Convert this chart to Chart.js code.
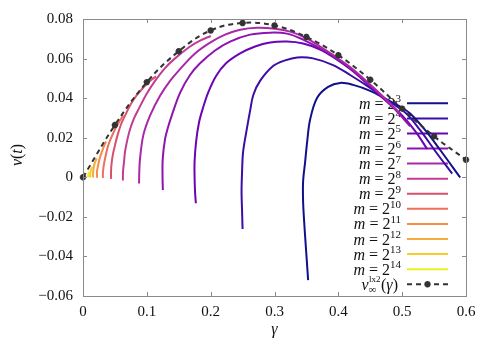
<!DOCTYPE html>
<html>
<head>
<meta charset="utf-8">
<script src="https://cdn.jsdelivr.net/npm/chart.js@4/dist/chart.umd.min.js"></script>
<style>
  html, body { margin: 0; padding: 0; background: #fff; }
</style>
</head>
<body>
<canvas id="chart" width="493" height="345"></canvas>
<script>
// exponents of m = 2^k, one curve each
const exponents = [3, 4, 5, 6, 7, 8, 9, 10, 11, 12, 13, 14];
const curveColors = ['#10108c', '#3a0ca8', '#6a04b4', '#8e14b0', '#aa28a6', '#c23c92',
                     '#d8506c', '#ec705e', '#f58c48', '#f9a93a', '#fbcb2a', '#eeee24'];

// [gamma, nu] pairs
const m3 = [[0.3527,-0.0520],[0.3495,-0.0370],[0.3464,-0.0221],[0.3448,-0.0121],[0.3448,-0.0021],[0.3480,0.0078],[0.3511,0.0178],[0.3558,0.0292],[0.3668,0.0402],[0.3840,0.0457],[0.4028,0.0477],[0.4232,0.0467],[0.4498,0.0437],[0.4765,0.0392],[0.4969,0.0357],[0.5125,0.0322],[0.5361,0.0238],[0.5596,0.0138],[0.5909,-0.0001]];
const m4 = [[0.2500,-0.0261],[0.2492,-0.0171],[0.2484,-0.0071],[0.2492,0.0028],[0.2508,0.0128],[0.2566,0.0243],[0.2618,0.0337],[0.2669,0.0417],[0.2774,0.0487],[0.2978,0.0562],[0.3166,0.0591],[0.3354,0.0606],[0.3605,0.0601],[0.3918,0.0567],[0.4185,0.0517],[0.4498,0.0452],[0.4734,0.0397],[0.5047,0.0327],[0.5282,0.0238],[0.5517,0.0133],[0.5784,0.0018]];
const m5 = [[0.1768,-0.0131],[0.1755,-0.0071],[0.1748,0.0003],[0.1748,0.0078],[0.1771,0.0178],[0.1818,0.0278],[0.1881,0.0352],[0.1959,0.0427],[0.2085,0.0512],[0.2241,0.0576],[0.2461,0.0626],[0.2696,0.0661],[0.2931,0.0681],[0.3197,0.0686],[0.3448,0.0676],[0.3715,0.0646],[0.3950,0.0601],[0.4185,0.0547],[0.4420,0.0482],[0.4655,0.0412],[0.4969,0.0322],[0.5204,0.0233],[0.5392,0.0143]];
const m6 = [[0.1251,-0.0064],[0.1246,0.0003],[0.1249,0.0093],[0.1285,0.0193],[0.1332,0.0253],[0.1390,0.0312],[0.1520,0.0427],[0.1677,0.0517],[0.1834,0.0576],[0.2069,0.0641],[0.2304,0.0686],[0.2618,0.0721],[0.2931,0.0731],[0.3197,0.0726],[0.3448,0.0696],[0.3715,0.0651],[0.3950,0.0606],[0.4185,0.0552],[0.4420,0.0487],[0.4655,0.0417],[0.4890,0.0342],[0.5125,0.0258]];
const m7 = [[0.0878,-0.0031],[0.0882,0.0028],[0.0893,0.0093],[0.0945,0.0213],[0.1050,0.0312],[0.1207,0.0412],[0.1364,0.0487],[0.1520,0.0547],[0.1755,0.0626],[0.1991,0.0681],[0.2226,0.0721],[0.2461,0.0746],[0.2727,0.0756],[0.3009,0.0751],[0.3245,0.0736],[0.3480,0.0706],[0.3715,0.0661],[0.3950,0.0611],[0.4185,0.0557],[0.4420,0.0492],[0.4655,0.0422],[0.4969,0.0322]];
const m8 = [[0.0625,-0.0016],[0.0627,0.0028],[0.0643,0.0078],[0.0658,0.0128],[0.0697,0.0193],[0.0737,0.0243],[0.0799,0.0298],[0.0867,0.0342],[0.0998,0.0422],[0.1129,0.0487],[0.1285,0.0552],[0.1442,0.0601],[0.1677,0.0661],[0.1834,0.0691],[0.2002,0.0714]];
const m9 = [[0.0440,-0.0008],[0.0439,0.0028],[0.0447,0.0068],[0.0470,0.0118],[0.0502,0.0163],[0.0533,0.0203],[0.0596,0.0268],[0.0674,0.0322],[0.0752,0.0372],[0.0846,0.0417],[0.0956,0.0457],[0.1050,0.0487],[0.1144,0.0510]];
const m10 = [[0.0312,-0.0004],[0.0313,0.0028],[0.0329,0.0068],[0.0361,0.0118],[0.0392,0.0158],[0.0439,0.0198],[0.0502,0.0243],[0.0564,0.0278],[0.0632,0.0314]];
const m11 = [[0.0221,-0.0002],[0.0219,0.0028],[0.0235,0.0058],[0.0259,0.0093],[0.0290,0.0123],[0.0329,0.0158],[0.0361,0.0181]];
const m12 = [[0.0157,-0.0001],[0.0157,0.0018],[0.0165,0.0043],[0.0180,0.0068],[0.0215,0.0095]];
const m13 = [[0.0111,-0.0001],[0.0113,0.0018],[0.0122,0.0033],[0.0146,0.0053]];
const m14 = [[0.0078,0],[0.0080,0.0013],[0.0088,0.0021],[0.0097,0.0028]];
const curves = [m3, m4, m5, m6, m7, m8, m9, m10, m11, m12, m13, m14];

// limit curve nu_inf(gamma)
const limitGamma = [0, 0.05, 0.1, 0.15, 0.2, 0.25, 0.3, 0.35, 0.4, 0.45, 0.5, 0.55, 0.6];
const limitNu = [0, 0.0264, 0.0481, 0.0637, 0.0742, 0.078, 0.0767, 0.0709, 0.0617, 0.0493, 0.0347, 0.0207, 0.0089];

const xTicks = [0, 0.1, 0.2, 0.3, 0.4, 0.5, 0.6];
const xTickLabels = ['0', '0.1', '0.2', '0.3', '0.4', '0.5', '0.6'];
const yTicks = [-0.06, -0.04, -0.02, 0, 0.02, 0.04, 0.06, 0.08];
const yTickLabels = ['\u22120.06', '\u22120.04', '\u22120.02', '0', '0.02', '0.04', '0.06', '0.08'];

const FONT = '"Liberation Serif", "DejaVu Serif", serif';
const fontOf = r => (r.it ? 'italic ' : '') + (r.size || 16) + 'px ' + FONT;

function runsWidth(ctx, runs) {
  let w = 0;
  for (const r of runs) { ctx.font = fontOf(r); w += ctx.measureText(r.t).width; }
  return w;
}
function drawRuns(ctx, runs, x, y) {
  for (const r of runs) {
    ctx.font = fontOf(r);
    ctx.fillText(r.t, x, y + (r.dy || 0));
    x += ctx.measureText(r.t).width;
  }
  return x;
}
function drawStar(ctx, x, y, r) {
  ctx.beginPath();
  ctx.moveTo(x - r, y); ctx.lineTo(x + r, y);
  ctx.moveTo(x, y - r); ctx.lineTo(x, y + r);
  const d = r * 0.7071;
  ctx.moveTo(x - d, y - d); ctx.lineTo(x + d, y + d);
  ctx.moveTo(x - d, y + d); ctx.lineTo(x + d, y - d);
  ctx.stroke();
}

const datasets = [{
  label: 'limit',
  data: limitGamma.map((g, i) => ({ x: g, y: limitNu[i] })),
  borderColor: '#333333',
  backgroundColor: '#333333',
  borderWidth: 2,
  borderDash: [5, 4],
  pointStyle: 'star',
  pointRadius: 3.2,
  pointBorderWidth: 2,
  tension: 0.4,
  order: 0,
  clip: false
}];
curves.forEach((c, i) => {
  datasets.push({
    label: 'm = 2^' + exponents[i],
    data: c.map(p => ({ x: p[0], y: p[1] })),
    borderColor: curveColors[i],
    borderWidth: 2,
    pointRadius: 0,
    tension: 0.35,
    order: 20 - i,
    clip: false
  });
});

const framePlugin = {
  id: 'frame',
  beforeDatasetsDraw(chart) {
    const ctx = chart.ctx;
    ctx.save();
    ctx.fillStyle = '#111';
    ctx.textBaseline = 'alphabetic';
    const xRight = 401, lx0 = 407, lx1 = 448;
    exponents.forEach((k, i) => {
      const yRow = 103.3 + i * 15.08;
      const runs = [{ t: 'm', it: true }, { t: ' = 2' }, { t: String(k), size: 11, dy: -6.5 }];
      drawRuns(ctx, runs, xRight - runsWidth(ctx, runs), yRow + 5.5);
      ctx.strokeStyle = curveColors[i];
      ctx.lineWidth = 2;
      ctx.setLineDash([]);
      ctx.beginPath(); ctx.moveTo(lx0, yRow); ctx.lineTo(lx1, yRow); ctx.stroke();
    });
    // limit curve entry
    const yRow = 103.3 + 12 * 15.08;
    ctx.font = fontOf({ size: 9 });
    const wSup = ctx.measureText('lx2').width;
    ctx.font = fontOf({ size: 11 });
    const wSub = ctx.measureText('\u221e').width;
    const tail = [{ t: '(' }, { t: '\u03b3', it: true }, { t: ')' }];
    const head = [{ t: '\u03bd', it: true }];
    const total = runsWidth(ctx, head) + Math.max(wSup, wSub) + 1 + runsWidth(ctx, tail);
    let x = xRight - 3 - total;
    x = drawRuns(ctx, head, x, yRow + 5.5);
    ctx.font = fontOf({ size: 9 });
    ctx.fillText('lx2', x + 0.5, yRow - 2);
    ctx.font = fontOf({ size: 11 });
    ctx.fillText('\u221e', x, yRow + 8.5);
    x += Math.max(wSup, wSub) + 1;
    drawRuns(ctx, tail, x, yRow + 5.5);
    ctx.strokeStyle = '#333333';
    ctx.lineWidth = 2;
    ctx.setLineDash([5, 4]);
    ctx.beginPath(); ctx.moveTo(lx0, yRow); ctx.lineTo(lx1, yRow); ctx.stroke();
    ctx.setLineDash([]);
    drawStar(ctx, (lx0 + lx1) / 2, yRow, 3.2);
    ctx.restore();
  },
  afterDraw(chart) {
    const { ctx, chartArea: a, scales: { x, y } } = chart;
    ctx.save();
    ctx.strokeStyle = '#8a8a8a';
    ctx.lineWidth = 1;
    ctx.setLineDash([]);
    ctx.strokeRect(Math.round(a.left) + 0.5, Math.round(a.top) + 0.5,
                   Math.round(a.right - a.left), Math.round(a.bottom - a.top));
    const t = 4;
    ctx.beginPath();
    xTicks.forEach(v => {
      const px = Math.round(x.getPixelForValue(v)) + 0.5;
      ctx.moveTo(px, a.bottom); ctx.lineTo(px, a.bottom - t);
      ctx.moveTo(px, a.top); ctx.lineTo(px, a.top + t);
    });
    yTicks.forEach(v => {
      const py = Math.round(y.getPixelForValue(v)) + 0.5;
      ctx.moveTo(a.left, py); ctx.lineTo(a.left + t, py);
      ctx.moveTo(a.right, py); ctx.lineTo(a.right - t, py);
    });
    ctx.stroke();
    // axis titles
    ctx.fillStyle = '#111';
    ctx.textAlign = 'center';
    ctx.textBaseline = 'middle';
    ctx.font = fontOf({ it: true, size: 16 });
    ctx.fillText('\u03b3', (a.left + a.right) / 2, 330);
    ctx.translate(18, 155);
    ctx.rotate(-Math.PI / 2);
    const runs = [{ t: '\u03bd', it: true }, { t: '(' }, { t: 't', it: true }, { t: ')' }];
    ctx.textAlign = 'left';
    drawRuns(ctx, runs, -runsWidth(ctx, runs) / 2, 0);
    ctx.restore();
  }
};

new Chart(document.getElementById('chart'), {
  type: 'scatter',
  data: { datasets: datasets },
  options: {
    responsive: false,
    animation: false,
    showLine: true,
    layout: { padding: { top: 15, right: 27, left: 0, bottom: 0 } },
    plugins: { legend: { display: false }, tooltip: { enabled: false } },
    scales: {
      x: {
        type: 'linear', min: 0, max: 0.6,
        afterBuildTicks: s => { s.ticks = xTicks.map(v => ({ value: v })); },
        afterFit: s => { s.height = 49; },
        grid: { display: false, drawTicks: false },
        border: { display: false },
        ticks: {
          padding: 7, maxRotation: 0, color: '#111',
          font: { family: FONT, size: 15 },
          callback: (v, i) => xTickLabels[i]
        }
      },
      y: {
        type: 'linear', min: -0.06, max: 0.08,
        afterBuildTicks: s => { s.ticks = yTicks.map(v => ({ value: v })); },
        afterFit: s => { s.width = 83; },
        grid: { display: false, drawTicks: false },
        border: { display: false },
        ticks: {
          padding: 10, color: '#111',
          font: { family: FONT, size: 15 },
          callback: (v, i) => yTickLabels[i]
        }
      }
    }
  },
  plugins: [framePlugin]
});
</script>
</body>
</html>
